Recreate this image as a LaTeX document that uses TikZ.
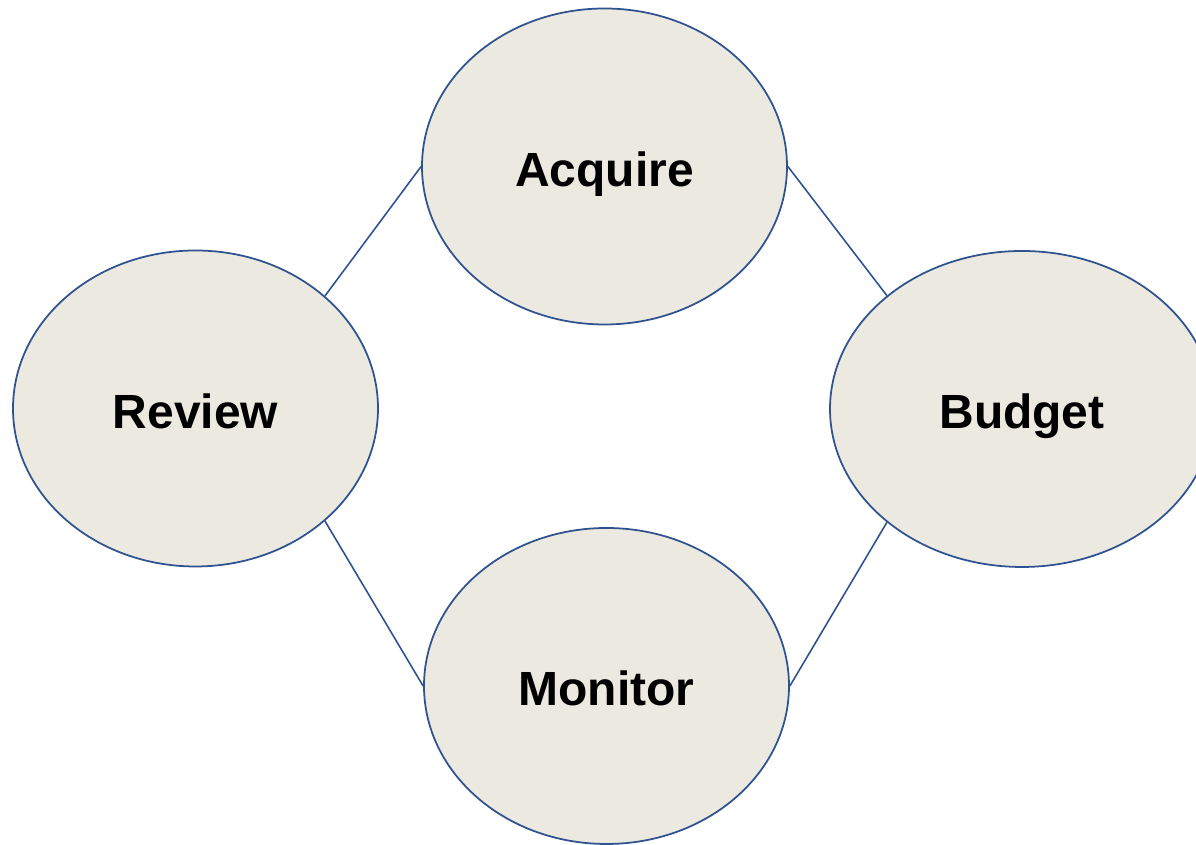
\documentclass[tikz,border=0pt]{standalone}
\usepackage{fontspec}
\setmainfont{Liberation Sans}
\usepackage{tikz}
\usetikzlibrary{shapes.geometric}
\definecolor{rim}{HTML}{2F5290}
\definecolor{paper}{HTML}{ECEAE0}

\begin{document}
\begin{tikzpicture}[stage/.style={ellipse, draw=rim, fill=paper, line width=1pt,
  minimum width=7.3cm, minimum height=6.32cm, inner sep=0pt,
  text height=0.79cm, text depth=0pt,
  font=\fontsize{27.3}{32}\selectfont\bfseries}]
\useasboundingbox (0,0) rectangle (23.92,16.9);
\node[stage] (acquire) at (12.09,13.57){Acquire};
\node[stage] (review) at (3.91,8.73){Review};
\node[stage, minimum width=7.68cm] (budget) at (20.44,8.72){Budget};
\node[stage] (monitor) at (12.13,3.18){Monitor};
\foreach \from/\to in
{review.41/acquire.west,acquire.east/budget.140,review.-41/monitor.west,monitor.east/budget.-140}
\draw[rim, line width=0.9pt] (\from) -- (\to);
\end{tikzpicture}
\end{document}
